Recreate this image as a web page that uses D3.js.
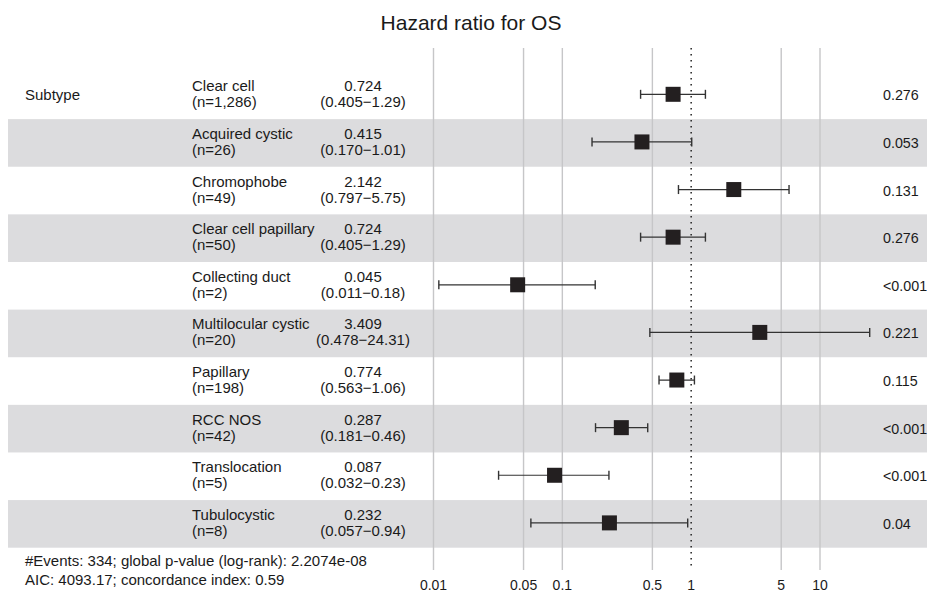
<!DOCTYPE html>
<html>
<head>
<meta charset="utf-8">
<script src="https://cdn.jsdelivr.net/npm/d3@7"></script>
<style>
  body { margin: 0; background: #fff; }
  text { font-family: "Liberation Sans", Arial, sans-serif; fill: #1a1a1a; }
</style>
</head>
<body>
<div id="forest"></div>
<script>
// data
const subtypes = ["Clear cell", "Acquired cystic", "Chromophobe", "Clear cell papillary",
  "Collecting duct", "Multilocular cystic", "Papillary", "RCC NOS", "Translocation", "Tubulocystic"];
const counts = ["1,286", "26", "49", "50", "2", "20", "198", "42", "5", "8"];
const hazard = [0.724, 0.415, 2.142, 0.724, 0.045, 3.409, 0.774, 0.287, 0.087, 0.232];
const ciLow = [0.405, 0.170, 0.797, 0.405, 0.011, 0.478, 0.563, 0.181, 0.032, 0.057];
const ciHigh = [1.29, 1.01, 5.75, 1.29, 0.18, 24.31, 1.06, 0.46, 0.23, 0.94];
const ciLowLabels = ["0.405", "0.170", "0.797", "0.405", "0.011", "0.478", "0.563", "0.181", "0.032", "0.057"];
const ciHighLabels = ["1.29", "1.01", "5.75", "1.29", "0.18", "24.31", "1.06", "0.46", "0.23", "0.94"];
const pValues = ["0.276", "0.053", "0.131", "0.276", "<0.001", "0.221", "0.115", "<0.001", "<0.001", "0.04"];
const tickValues = [0.01, 0.05, 0.1, 0.5, 1, 5, 10];
const footnote = ["#Events: 334; global p-value (log-rank): 2.2074e-08",
  "AIC: 4093.17; concordance index: 0.59"];

function drawForest() {
  const width = 927;
  const height = 594;
  const fs = 15;

  const svg = d3.select("#forest")
    .append("svg")
    .attr("width", width)
    .attr("height", height);

  const x = d3.scaleLog()
    .domain([0.01, 10])
    .range([433.5, 820]);

  const y = d3.scaleBand()
    .domain(subtypes)
    .range([71.5, 547.7]);

  const rows = subtypes.map((s, i) => ({
    name: s, n: counts[i], hr: hazard[i], lo: ciLow[i], hi: ciHigh[i],
    loLab: ciLowLabels[i], hiLab: ciHighLabels[i], p: pValues[i], i: i
  }));

  // alternating bands
  svg.selectAll("rect.band")
    .data(rows.filter(d => d.i % 2 === 1))
    .join("rect")
    .attr("class", "band")
    .attr("x", 8)
    .attr("y", d => y(d.name))
    .attr("width", width - 8)
    .attr("height", y.bandwidth())
    .attr("fill", "#dcdcde");

  // vertical grid lines
  svg.selectAll("line.grid")
    .data(tickValues.filter(t => t !== 1))
    .join("line")
    .attr("class", "grid")
    .attr("x1", d => x(d)).attr("x2", d => x(d))
    .attr("y1", 48).attr("y2", 570)
    .attr("stroke", "#c6c6c8")
    .attr("stroke-width", 1.4);

  // reference line at HR = 1
  svg.append("line")
    .attr("x1", x(1)).attr("x2", x(1))
    .attr("y1", 48).attr("y2", 570)
    .attr("stroke", "#222")
    .attr("stroke-width", 1.5)
    .attr("stroke-dasharray", "1.5,4.5");

  // tick labels
  svg.selectAll("text.tick")
    .data(tickValues)
    .join("text")
    .attr("class", "tick")
    .attr("x", d => x(d))
    .attr("y", 590)
    .attr("text-anchor", "middle")
    .attr("font-size", 14)
    .text(d => d);

  const g = svg.selectAll("g.row")
    .data(rows)
    .join("g")
    .attr("class", "row")
    .attr("transform", d => `translate(0,${y(d.name) + y.bandwidth() / 2 - 1})`);

  // error bars
  g.append("line")
    .attr("x1", d => x(d.lo)).attr("x2", d => x(d.hi))
    .attr("stroke", "#333").attr("stroke-width", 1.2);
  g.append("line")
    .attr("x1", d => x(d.lo)).attr("x2", d => x(d.lo))
    .attr("y1", -4.5).attr("y2", 4.5)
    .attr("stroke", "#333").attr("stroke-width", 1.4);
  g.append("line")
    .attr("x1", d => x(d.hi)).attr("x2", d => x(d.hi))
    .attr("y1", -4.5).attr("y2", 4.5)
    .attr("stroke", "#333").attr("stroke-width", 1.4);

  // point estimates
  g.append("rect")
    .attr("x", d => x(d.hr) - 7.5)
    .attr("y", -7.5)
    .attr("width", 15).attr("height", 15)
    .attr("fill", "#231f20");

  // text columns
  g.append("text")
    .attr("x", 192).attr("y", -3)
    .attr("font-size", fs)
    .text(d => d.name);
  g.append("text")
    .attr("x", 192).attr("y", 13)
    .attr("font-size", fs)
    .text(d => `(n=${d.n})`);
  g.append("text")
    .attr("x", 363).attr("y", -3)
    .attr("font-size", fs)
    .attr("text-anchor", "middle")
    .text(d => d.hr.toFixed(3));
  g.append("text")
    .attr("x", 363).attr("y", 13)
    .attr("font-size", fs)
    .attr("text-anchor", "middle")
    .text(d => `(${d.loLab}\u2212${d.hiLab})`);
  g.append("text")
    .attr("x", 883).attr("y", 6)
    .attr("font-size", 14.3)
    .text(d => d.p);

  // group label
  svg.append("text")
    .attr("x", 25)
    .attr("y", y(subtypes[0]) + y.bandwidth() / 2 + 5)
    .attr("font-size", fs)
    .text("Subtype");

  // title
  svg.append("text")
    .attr("x", 471)
    .attr("y", 30)
    .attr("text-anchor", "middle")
    .attr("font-size", 21)
    .text("Hazard ratio for OS");

  // footnote
  svg.selectAll("text.foot")
    .data(footnote)
    .join("text")
    .attr("class", "foot")
    .attr("x", 25)
    .attr("y", (d, i) => 566 + i * 19)
    .attr("font-size", fs)
    .text(d => d);
}

drawForest();
</script>
</body>
</html>
